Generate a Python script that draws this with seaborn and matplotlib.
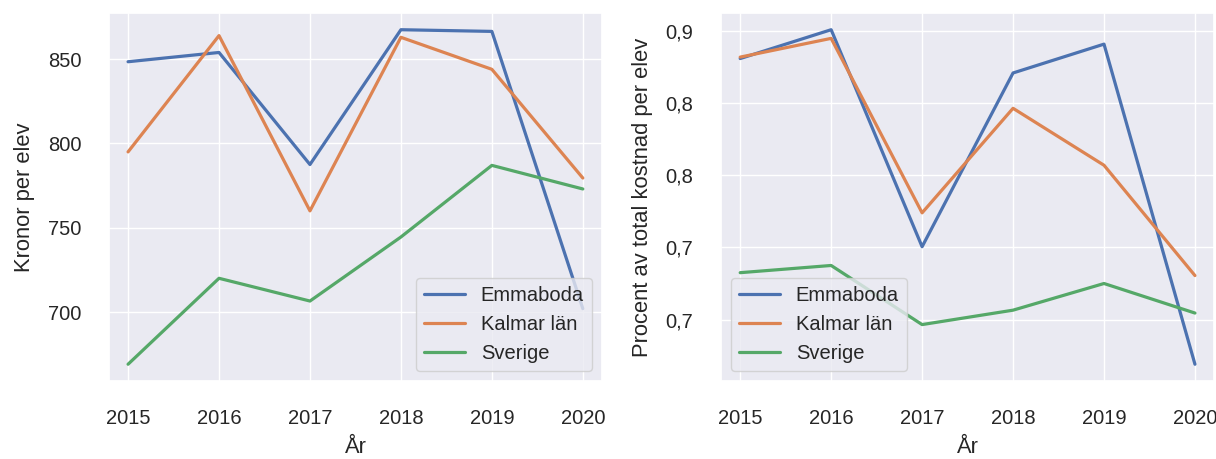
import math
import pandas as pd
import matplotlib
matplotlib.use("Agg")
import matplotlib.pyplot as plt
import matplotlib.ticker as mticker
import seaborn as sns

ar = [2015, 2016, 2017, 2018, 2019, 2020]
omraden = ["Emmaboda", "Kalmar län", "Sverige"]

# Kronor per elev
kr_emmaboda = [848.5, 854, 787.5, 867.5, 866.5, 702]
kr_kalmar = [795, 864, 760, 863, 844, 779.5]
kr_sverige = [669, 720, 706.5, 744.5, 787, 773]

# Procent av total kostnad per elev
pr_emmaboda = [0.881, 0.901, 0.7505, 0.871, 0.891, 0.669]
pr_kalmar = [0.882, 0.895, 0.774, 0.8465, 0.807, 0.7305]
pr_sverige = [0.7325, 0.7375, 0.6965, 0.7065, 0.725, 0.7045]


def lang_form(serier):
    rader = []
    for namn, varden in zip(omraden, serier):
        for a, v in zip(ar, varden):
            rader.append({"År": a, "Område": namn, "Värde": v})
    return pd.DataFrame(rader)


df_kr = lang_form([kr_emmaboda, kr_kalmar, kr_sverige])
df_pr = lang_form([pr_emmaboda, pr_kalmar, pr_sverige])

sns.set_theme(style="darkgrid", font_scale=1.32,
              rc={"xtick.major.pad": 14, "ytick.major.pad": 14})
plt.rcParams["font.family"] = ["Liberation Sans", "DejaVu Sans"]

fig = plt.figure(figsize=(12.16, 4.59), dpi=100)
ax1 = fig.add_axes([0.0896, 0.170, 0.4054, 0.8017])
ax2 = fig.add_axes([0.593, 0.170, 0.4054, 0.8017])

sns.lineplot(data=df_kr, x="År", y="Värde", hue="Område", ax=ax1, linewidth=2.3)
sns.lineplot(data=df_pr, x="År", y="Värde", hue="Område", ax=ax2, linewidth=2.3)

ax1.set_ylabel("Kronor per elev", labelpad=9)
ax2.set_ylabel("Procent av total kostnad per elev", labelpad=9)
for ax in (ax1, ax2):
    ax.set_xlabel("År", labelpad=7)
    ax.set_xticks(ar)
    ax.margins(x=0.042)

ax1.set_yticks([700, 750, 800, 850])


def trunkera(x, pos):
    v = math.floor(x * 10 + 1e-9) / 10
    return f"{v:.1f}".replace(".", ",")


ax2.yaxis.set_major_locator(mticker.MultipleLocator(0.05))
ax2.yaxis.set_major_formatter(mticker.FuncFormatter(trunkera))

ax1.legend(loc="lower right", title=None)
ax2.legend(loc="lower left", title=None)

fig.savefig("out.png", dpi=100)
